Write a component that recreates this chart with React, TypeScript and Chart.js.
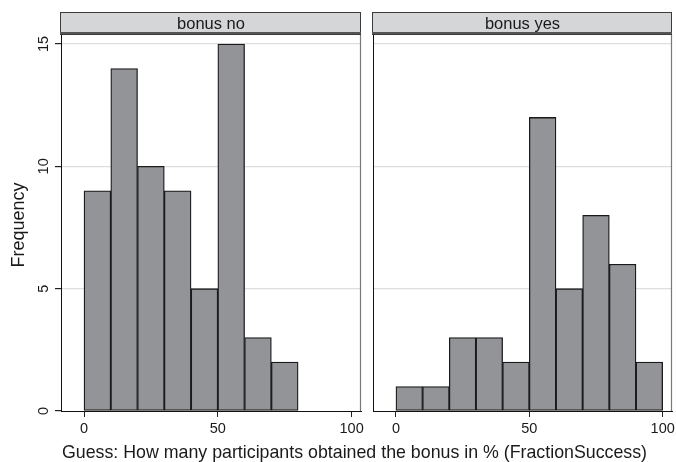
import React, { useEffect, useRef } from "react";
import { Chart, registerables } from "chart.js";

Chart.register(...registerables);

// ---- data ----
const BIN_STARTS = [0, 10, 20, 30, 40, 50, 60, 70, 80, 90];
const BIN_WIDTH = 10;
const COUNTS_NO = [9, 14, 10, 9, 5, 15, 3, 2, 0, 0];
const COUNTS_YES = [1, 1, 3, 3, 2, 12, 5, 8, 6, 2];
const PANEL_TITLES = ["bonus no", "bonus yes"];
const X_TICKS = [0, 50, 100];
const Y_TICKS = [0, 5, 10, 15];
const Y_TITLE = "Frequency";
const X_TITLE = "Guess: How many participants obtained the bonus in % (FractionSuccess)";

const X_MIN = -8.6;
const X_MAX = 103.5;
const Y_MAX = 15.41;

const FONT = '"Liberation Sans", Arial, Helvetica, sans-serif';
const TEXT = "#1a1a1a";
const W = 676;
const H = 462;

function makeConfig(counts: number[], title: string, isLeft: boolean): any {
  const panelPlugin = {
    id: "panelDecor",
    afterDraw(chart: any) {
      const { ctx, chartArea: a } = chart;
      ctx.save();
      // right frame line of plot region
      ctx.strokeStyle = "#7a7a7a";
      ctx.lineWidth = 1.2;
      ctx.beginPath();
      ctx.moveTo(Math.round(a.right) - 0.5, a.top);
      ctx.lineTo(Math.round(a.right) - 0.5, a.bottom);
      ctx.stroke();
      // strip
      const top = 12;
      const bottom = a.top;
      const l = Math.round(a.left);
      const r = Math.round(a.right);
      ctx.fillStyle = "#d5d6d8";
      ctx.fillRect(l, top, r - l, bottom - top);
      ctx.lineWidth = 1;
      ctx.strokeStyle = "#3c3c3c";
      ctx.strokeRect(l - 0.5, top + 0.5, r - l, bottom - top);
      ctx.fillStyle = "#555";
      ctx.fillRect(l - 1, bottom - 2, r - l + 1, 2);
      ctx.fillStyle = TEXT;
      ctx.font = `16.5px ${FONT}`;
      ctx.textAlign = "center";
      ctx.textBaseline = "alphabetic";
      ctx.fillText(title, (l + r) / 2, 28.5);

      if (isLeft) {
        const ys = chart.scales.y;
        // rotated y tick labels
        ctx.font = `14.5px ${FONT}`;
        ctx.fillStyle = TEXT;
        ctx.textAlign = "center";
        ctx.textBaseline = "alphabetic";
        for (const v of Y_TICKS) {
          const py = ys.getPixelForValue(v);
          ctx.save();
          ctx.translate(47.5, py);
          ctx.rotate(-Math.PI / 2);
          ctx.fillText(String(v), 0, 0);
          ctx.restore();
        }
        // y title
        ctx.font = `18px ${FONT}`;
        ctx.save();
        ctx.translate(24, (a.top + a.bottom) / 2 + 2.5);
        ctx.rotate(-Math.PI / 2);
        ctx.fillText(Y_TITLE, 0, 0);
        ctx.restore();
        // x title (spans both panels)
        ctx.font = `17.8px ${FONT}`;
        ctx.textAlign = "center";
        ctx.fillText(X_TITLE, 354.5, 458);
      }
      ctx.restore();
    },
  };

  return {
    type: "bar",
    data: {
      datasets: [
        {
          data: BIN_STARTS.map((s, i) => ({ x: s + BIN_WIDTH / 2, y: counts[i] })).filter(
            (d) => d.y > 0
          ),
          backgroundColor: "#939498",
          borderColor: "#1a1a1a",
          borderWidth: 1.3,
          borderSkipped: false,
          barPercentage: 1,
          categoryPercentage: 1,
        },
      ],
    },
    options: {
      animation: false,
      responsive: false,
      devicePixelRatio: 1,
      layout: {
        padding: { left: isLeft ? 0 : 373, right: isLeft ? 315 : 4, top: 34, bottom: 0 },
      },
      plugins: {
        legend: { display: false },
        tooltip: { enabled: false },
        title: { display: false },
      },
      scales: {
        x: {
          type: "linear",
          min: X_MIN,
          max: X_MAX,
          offset: false,
          afterBuildTicks: (s: any) => {
            s.ticks = X_TICKS.map((v) => ({ value: v }));
          },
          afterFit: (s: any) => {
            s.height = 51;
            s.paddingLeft = 0;
            s.paddingRight = 0;
          },
          grid: {
            offset: false,
            drawOnChartArea: false,
            drawTicks: true,
            tickLength: 6,
            tickColor: "#222",
            lineWidth: 1,
          },
          border: { display: true, color: "#111", width: 1 },
          ticks: {
            font: { family: FONT, size: 14.5 },
            color: TEXT,
            padding: 3,
            maxRotation: 0,
            minRotation: 0,
            autoSkip: false,
          },
        },
        y: {
          type: "linear",
          min: 0,
          max: Y_MAX,
          afterBuildTicks: (s: any) => {
            s.ticks = Y_TICKS.map((v) => ({ value: v }));
          },
          afterFit: (s: any) => {
            s.width = isLeft ? 61 : 0;
            s.paddingTop = 0;
            s.paddingBottom = 0;
          },
          grid: {
            color: (c: any) => (c.tick && c.tick.value === 0 ? "rgba(0,0,0,0)" : "#dedede"),
            lineWidth: 1.2,
            drawTicks: isLeft,
            tickLength: 6,
            tickColor: "#222",
          },
          border: { display: true, color: "#111", width: 1 },
          ticks: { display: false },
        },
      },
    },
    plugins: [panelPlugin],
  };
}

export default function App() {
  const leftRef = useRef<HTMLCanvasElement | null>(null);
  const rightRef = useRef<HTMLCanvasElement | null>(null);

  useEffect(() => {
    const c1 = new Chart(leftRef.current as HTMLCanvasElement, makeConfig(COUNTS_NO, PANEL_TITLES[0], true));
    const c2 = new Chart(rightRef.current as HTMLCanvasElement, makeConfig(COUNTS_YES, PANEL_TITLES[1], false));
    return () => {
      c1.destroy();
      c2.destroy();
    };
  }, []);

  const canvasStyle: React.CSSProperties = {
    position: "absolute",
    left: 0,
    top: 0,
    width: W,
    height: H,
  };

  return (
    <div style={{ position: "fixed", left: 0, top: 0, width: W, height: H, background: "#fff" }}>
      <canvas ref={leftRef} width={W} height={H} style={canvasStyle} />
      <canvas ref={rightRef} width={W} height={H} style={canvasStyle} />
    </div>
  );
}
